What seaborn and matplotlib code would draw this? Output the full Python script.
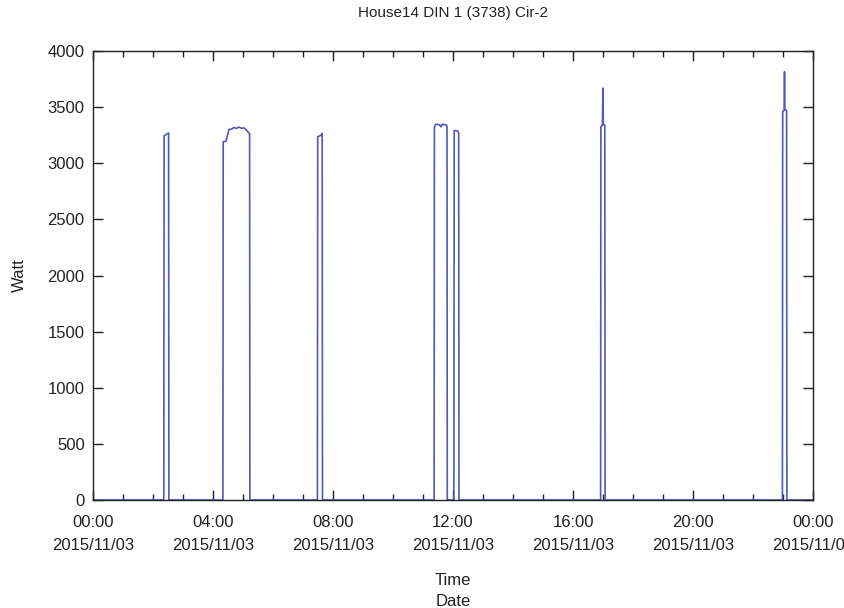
import numpy as np
import pandas as pd
import matplotlib
matplotlib.use("Agg")
import matplotlib.pyplot as plt
import matplotlib.dates as mdates
import seaborn as sns

# Hours after 2015/11/03 00:00 and power readings (W)
hours = [0.0,
         2.36, 2.37, 2.45, 2.52, 2.53,
         4.33, 4.34, 4.43, 4.53, 4.62, 4.70, 4.78, 4.86, 4.95, 5.03, 5.10, 5.20, 5.22, 5.23,
         7.48, 7.49, 7.60, 7.64, 7.65,
         11.37, 11.38, 11.42, 11.55, 11.60, 11.65, 11.78, 11.80, 11.81,
         12.03, 12.04, 12.15, 12.19, 12.20,
         16.92, 16.93, 16.98, 17.00, 17.01, 17.06, 17.07,
         22.98, 22.99, 23.04, 23.05, 23.06, 23.12, 23.13,
         24.0]
watts = [0,
         0, 3245, 3258, 3270, 0,
         0, 3192, 3195, 3300, 3305, 3318, 3310, 3322, 3312, 3315, 3300, 3268, 3265, 0,
         0, 3235, 3250, 3265, 0,
         0, 3320, 3348, 3342, 3325, 3348, 3340, 3330, 0,
         0, 3292, 3288, 3270, 0,
         0, 3325, 3340, 3670, 3345, 3340, 0,
         0, 3460, 3475, 3815, 3480, 3470, 0,
         0]

title = "House14 DIN 1 (3738) Cir-2"
start = pd.Timestamp("2015-11-03 00:00")

df = pd.DataFrame({
    "time": start + pd.to_timedelta(hours, unit="h"),
    "watt": watts,
})

sns.set_style("ticks")
plt.rcParams["font.family"] = ["Liberation Sans", "DejaVu Sans"]

fig = plt.figure(figsize=(8.44, 6.08), dpi=100)
ax = fig.add_axes([93 / 844, 1 - 500 / 608, 720 / 844, 449 / 608])

sns.lineplot(data=df, x="time", y="watt", ax=ax, color="#5058bb",
             linewidth=1.2, estimator=None, sort=False)

ax.set_xlim(start, start + pd.Timedelta(hours=24))
ax.set_ylim(0, 4000)
ax.set_yticks(np.arange(0, 4001, 500))
ax.xaxis.set_major_locator(mdates.HourLocator(byhour=[0, 4, 8, 12, 16, 20]))
ax.xaxis.set_minor_locator(mdates.HourLocator())
ax.xaxis.set_major_formatter(mdates.DateFormatter("%H:%M\n%Y/%m/%d"))

ax.tick_params(axis="both", which="both", direction="in", top=True, right=True,
               colors="#222222", labelcolor="#222222")
ax.tick_params(axis="both", which="major", length=7, width=1.0, labelsize=12, pad=6)
ax.tick_params(axis="x", which="major", pad=11)
ax.tick_params(axis="x", which="minor", length=4, width=1.0)
for lbl in ax.get_xticklabels():
    lbl.set_linespacing(1.65)

for sp in ax.spines.values():
    sp.set_visible(True)
    sp.set_color("#222222")
    sp.set_linewidth(1.0)

ax.set_xlabel("Time\nDate", fontsize=12, labelpad=14, linespacing=1.5, color="#222222")
ax.set_ylabel("Watt", fontsize=12, labelpad=15, color="#222222")
fig.text(453 / 844, 1 - 13 / 608, title, ha="center", va="center", fontsize=11, color="#222222")

fig.savefig("out.png", dpi=100)
